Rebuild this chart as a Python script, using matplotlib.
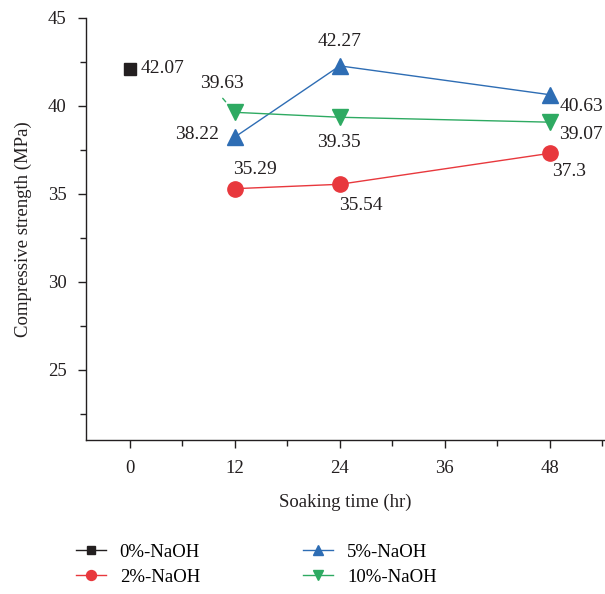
import matplotlib.pyplot as plt
from matplotlib.ticker import MultipleLocator

# data
t0 = [0]
s0 = [42.07]
t_other = [12, 24, 48]
s2 = [35.29, 35.54, 37.3]
s5 = [38.22, 42.27, 40.63]
s10 = [39.63, 39.35, 39.07]
xticks = [0, 12, 24, 36, 48]
yticks = [25, 30, 35, 40, 45]

plt.rcParams['font.family'] = ['Liberation Serif', 'DejaVu Serif']

fig = plt.figure(figsize=(6.05, 5.94), dpi=100)
ax = fig.add_axes([0.142, 0.259, 0.858, 0.711])

c0, c2, c5, c10 = '#231f20', '#e8383d', '#2e6db4', '#2eaa62'
ax.plot(t0, s0, color=c0, marker='s', markersize=9, lw=1, label='0%-NaOH')
ax.plot(t_other, s2, color=c2, marker='o', markersize=11, lw=1, label='2%-NaOH')
ax.plot(t_other, s5, color=c5, marker='^', markersize=11, lw=1, label='5%-NaOH')
ax.plot(t_other, s10, color=c10, marker='v', markersize=11, lw=1, label='10%-NaOH')

def lab(x, y, dx, dy, ha='center'):
    ax.annotate(f'{y:g}', (x, y), xytext=(dx, dy), textcoords='offset pixels',
                ha=ha, va='center', fontsize=14, color='#231f20')

lab(0, s0[0], 11, 1, 'left')
# 2%
lab(12, s2[0], 20, 19)
lab(24, s2[1], 21, -21)
lab(48, s2[2], 19, -18)
# 5%
lab(12, s5[0], -16, 3, 'right')
lab(24, s5[1], 0, 24)
lab(48, s5[2], 10, -12, 'left')
# 10%
lab(12, s10[0], -13, 29)
lab(24, s10[1], -1, -25)
lab(48, s10[2], 9, -12, 'left')
# leader line for 39.63
ax.annotate('', (12, s10[0]), xytext=(-12, 14), textcoords='offset pixels',
            arrowprops=dict(arrowstyle='-', color=c10, lw=1, shrinkA=0, shrinkB=10))

ax.set_xlim(-5, 54.3)
ax.set_ylim(21, 45)
ax.set_xticks(xticks)
ax.set_yticks(yticks)
ax.xaxis.set_minor_locator(MultipleLocator(6))
ax.yaxis.set_minor_locator(MultipleLocator(2.5))
ax.spines['top'].set_visible(False)
ax.spines['right'].set_visible(False)
for s in ['left', 'bottom']:
    ax.spines[s].set_linewidth(1)
    ax.spines[s].set_color('#231f20')
ax.tick_params(which='major', direction='out', length=6, width=1, labelsize=13.5, colors='#231f20', pad=8)
ax.tick_params(which='minor', direction='out', length=4, width=1, colors='#231f20')

ax.set_xlabel('Soaking time (hr)', fontsize=13.5, labelpad=12, color='#231f20')
ax.set_ylabel('Compressive strength (MPa)', fontsize=13.5, labelpad=11, color='#231f20')

leg = fig.legend(ncol=2, loc='upper left', bbox_to_anchor=(0.125, 0.085), frameon=False,
                 fontsize=13.5, handlelength=1.6, handletextpad=0.75,
                 columnspacing=5.5, labelspacing=0.42, markerscale=0.65,
                 borderaxespad=0, borderpad=0)

fig.savefig('out.png', dpi=100)
